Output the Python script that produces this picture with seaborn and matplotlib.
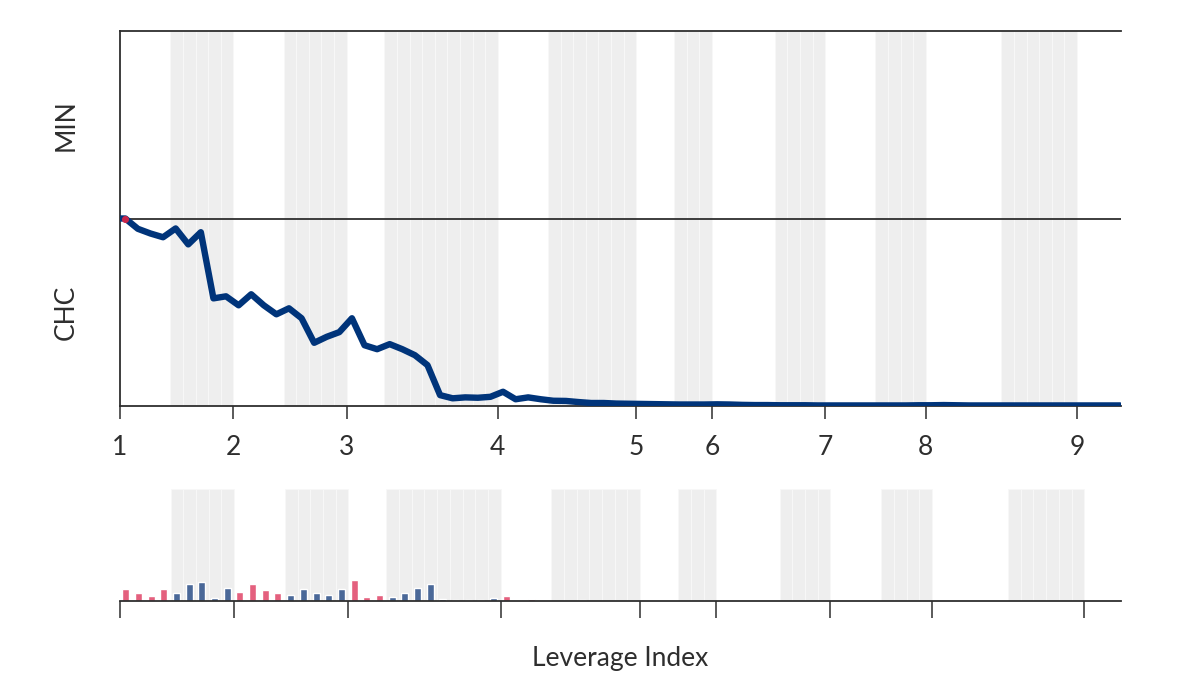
import numpy as np
import pandas as pd
import matplotlib
matplotlib.use('Agg')
import matplotlib.pyplot as plt
import seaborn as sns

# data
group_labels = ['1', '2', '3', '4', '5', '6', '7', '8', '9']
group_ticks = [0, 9, 18, 30, 41, 47, 56, 64, 76]
bands = [(4, 9), (13, 18), (21, 30), (34, 41), (44, 47), (52, 56), (60, 64), (70, 76)]
band_names = ['MIN', 'CHC']

# share of CHC along the leverage index (1 = top of CHC band)
chc_share = [1.0, 0.945, 0.92, 0.90, 0.947, 0.862, 0.927, 0.574, 0.585, 0.537,
             0.596, 0.537, 0.489, 0.521, 0.468, 0.337, 0.369, 0.394, 0.468, 0.324,
             0.303, 0.330, 0.303, 0.271, 0.218, 0.058, 0.041, 0.046, 0.044, 0.049,
             0.076, 0.036, 0.046, 0.036, 0.028, 0.027, 0.021, 0.016, 0.016, 0.013,
             0.012, 0.011, 0.010, 0.009, 0.008, 0.008, 0.008, 0.009, 0.008, 0.006,
             0.005, 0.005, 0.004, 0.004, 0.004, 0.003, 0.003, 0.003, 0.003, 0.003,
             0.003, 0.003, 0.003, 0.004, 0.004, 0.005, 0.004, 0.003, 0.003, 0.003,
             0.003, 0.003, 0.003, 0.003, 0.003, 0.003, 0.003, 0.003, 0.003, 0.003]

# bar heights of the lower panel (share of panel height)
bar_vals = [0.107, 0.074, 0.045, 0.107, 0.074, 0.152, 0.167, 0.029, 0.113, 0.078,
            0.152, 0.098, 0.071, 0.051, 0.107, 0.071, 0.051, 0.104, 0.185, 0.036,
            0.051, 0.036, 0.071, 0.116, 0.152, 0.021, 0.009, 0.006, 0.009, 0.024,
            0.047, 0.003, 0.018, 0.003, 0.003, 0.003, 0.009, 0.002, 0.002, 0.001,
            0.001, 0.0, 0.0, 0.0, 0.0, 0.0, 0.0, 0.0, 0.0, 0.0,
            0.0, 0.0, 0.0, 0.0, 0.0, 0.0, 0.0, 0.0, 0.0, 0.0,
            0.0, 0.0, 0.0, 0.0, 0.0, 0.0, 0.0, 0.0, 0.0, 0.0,
            0.0, 0.0, 0.0, 0.0, 0.0, 0.0, 0.0, 0.0, 0.0]

sns.set_style('white')
plt.rcParams['font.family'] = ['Lato', 'DejaVu Sans']

ink = '#2e2e2e'
navy = '#00347a'
red = '#e4607e'
blue = '#4a6898'
shade = '#eeeeee'


def in_band(i):
    return any(a <= i < b for a, b in bands)


def draw_bands(ax):
    for a, b in bands:
        for c in range(a, b):
            ax.axvspan(c, c + 1, color=shade, ec='#f8f8f8', lw=0.6, zorder=0)


fig = plt.figure(figsize=(11.98, 6.88), dpi=100)
ax = fig.add_axes([120 / 1198, 282 / 688, 1001 / 1198, 375 / 688])
axb = fig.add_axes([120 / 1198, 87 / 688, 1001 / 1198, 112 / 688])

# top panel
draw_bands(ax)
ax.axhline(1, color=ink, lw=1.3, zorder=1)
line_x = np.r_[0, np.arange(len(chc_share)) + 0.42]
line_y = np.r_[chc_share[0], chc_share]
sns.lineplot(x=line_x, y=line_y, sort=False, color=navy, lw=4.6, ax=ax, zorder=3)
ax.scatter([line_x[1]], [line_y[1]], s=26, color='#c8254a', zorder=4, lw=0)
ax.set_xlim(0, 79.5)
ax.set_ylim(0, 2)
ax.set_xticks(group_ticks)
ax.set_xticklabels(group_labels)
ax.set_yticks([1.5, 0.5])
ax.set_yticklabels(band_names, rotation=90, va='center')
ax.tick_params(axis='x', length=9, width=1.1, color=ink, labelsize=19,
               labelcolor=ink, pad=12, direction='out', bottom=True)
ax.tick_params(axis='y', length=0, labelsize=19, labelcolor=ink, pad=30)
for s in ['left', 'top', 'bottom']:
    ax.spines[s].set_color(ink)
    ax.spines[s].set_linewidth(1.3)
ax.spines['right'].set_visible(False)
ax.set_xlabel('')
ax.set_ylabel('')

# bottom panel
draw_bands(axb)
bars = pd.DataFrame({
    'x': np.arange(len(bar_vals)) + 0.45,
    'v': bar_vals,
    'kind': ['in' if in_band(i) else 'out' for i in range(len(bar_vals))],
})
sns.barplot(data=bars, x='x', y='v', hue='kind', native_scale=True,
            palette={'in': blue, 'out': red}, width=0.55, dodge=False,
            saturation=1, legend=False, ax=axb, zorder=2)
axb.set_xlim(0, 78.9)
axb.set_ylim(0, 1)
axb.set_xticks(group_ticks)
axb.set_xticklabels([])
axb.set_yticks([])
axb.tick_params(axis='x', length=12, width=1.1, color=ink, direction='out', bottom=True)
for s in ['left', 'top', 'right']:
    axb.spines[s].set_visible(False)
axb.spines['bottom'].set_color(ink)
axb.spines['bottom'].set_linewidth(1.3)
axb.set_ylabel('')
axb.set_xlabel('Leverage Index', fontsize=19, color=ink, labelpad=17)

fig.savefig('out.png', dpi=100)
